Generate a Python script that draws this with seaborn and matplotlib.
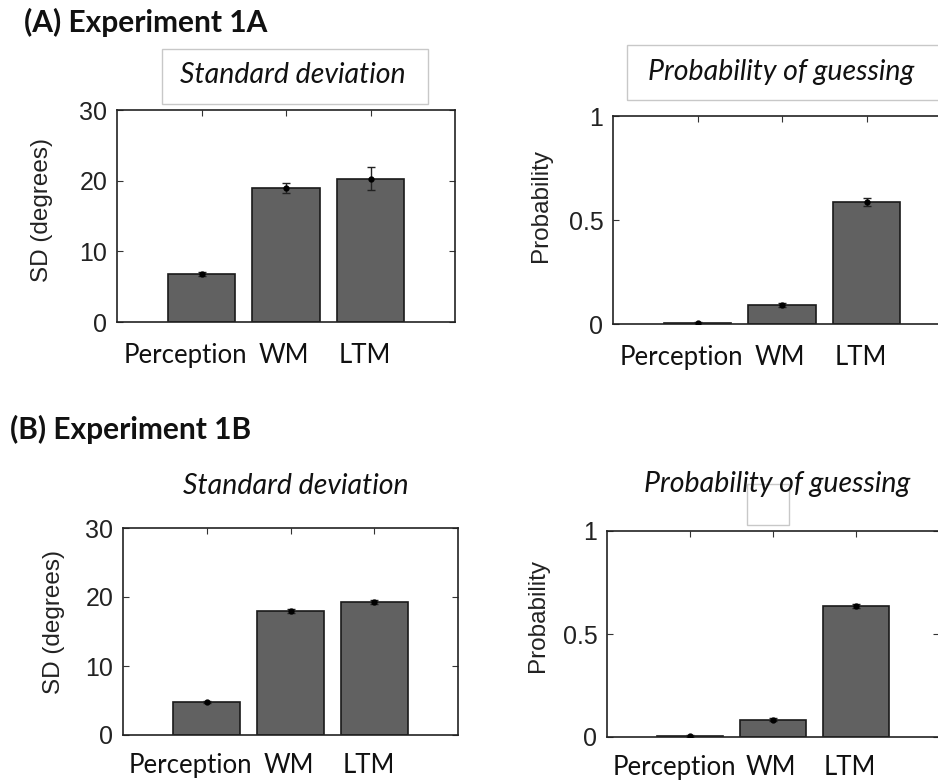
import numpy as np
import pandas as pd
import seaborn as sns
import matplotlib.pyplot as plt
from matplotlib.patches import Rectangle

# data
conditions = ['Perception', 'WM', 'LTM']
sd_1a = [6.8, 19.0, 20.3]
sd_1a_err = [0.3, 0.7, 1.6]
guess_1a = [0.006, 0.091, 0.588]
guess_1a_err = [0.003, 0.01, 0.02]
sd_1b = [4.8, 18.0, 19.3]
sd_1b_err = [0.2, 0.3, 0.3]
guess_1b = [0.005, 0.084, 0.637]
guess_1b_err = [0.003, 0.006, 0.01]

W, H = 938, 780
sns.set_style('white')
plt.rcParams['font.family'] = ['Liberation Sans', 'DejaVu Sans']

fig = plt.figure(figsize=(W / 100, H / 100), dpi=100)


def fx(px):
    return px / W


def fy(py):
    return 1 - py / H


def add_axes(x0, y0, x1, y1):
    return fig.add_axes([fx(x0), fy(y1), fx(x1 - x0), (y1 - y0) / H])


def panel(ax, vals, errs, ylabel, ymax, yticks, yticklabels, lab_xy, pad):
    df = pd.DataFrame({'cond': conditions, 'val': vals})
    sns.barplot(data=df, x='cond', y='val', color='#616161', saturation=1,
                edgecolor='#1a1a1a', linewidth=1.2, width=0.8, errorbar=None, ax=ax)
    ax.errorbar(range(3), vals, yerr=errs, fmt='o', ms=3.5, color='k',
                ecolor='#222222', elinewidth=1, capsize=3, zorder=4)
    ax.set_xlim(-1, 3)
    ax.set_ylim(0, ymax)
    ax.set_yticks(yticks)
    ax.set_yticklabels(yticklabels, fontsize=18, color='#222222')
    # major ticks only for the marks, labels on minor ticks a bit left of the bars
    ax.set_xticks(range(3))
    ax.set_xticklabels(['', '', ''])
    ax.set_xticks([-0.19, -0.02, -0.07] + np.arange(3), minor=True)
    ax.set_xticklabels(conditions, minor=True, fontsize=18.5,
                       family=['Lato', 'DejaVu Sans'], color='#111111')
    ax.set_xlabel('')
    ax.set_ylabel(ylabel, fontsize=17.5, color='#222222')
    ax.yaxis.set_label_coords(*lab_xy)
    ax.tick_params(axis='x', which='major', direction='in', bottom=False, top=True,
                   length=4, color='#333333')
    ax.tick_params(axis='x', which='minor', bottom=True, top=False, length=0, pad=pad)
    ax.tick_params(axis='y', direction='in', left=True, right=True, length=4,
                   pad=7, color='#333333')
    for s in ax.spines.values():
        s.set_visible(True)
        s.set_color('#222222')
        s.set_linewidth(1.2)


ax1 = add_axes(117, 110, 455, 322)
panel(ax1, sd_1a, sd_1a_err, 'SD (degrees)', 30, [0, 10, 20, 30], ['0', '10', '20', '30'],
      (-0.19, 0.528), 15)
ax2 = add_axes(613, 116, 951, 324)
panel(ax2, guess_1a, guess_1a_err, 'Probability', 1, [0, 0.5, 1], ['0', '0.5', '1'],
      (-0.18, 0.572), 15)
ax3 = add_axes(123, 528, 458, 735)
panel(ax3, sd_1b, sd_1b_err, 'SD (degrees)', 30, [0, 10, 20, 30], ['0', '10', '20', '30'],
      (-0.173, 0.546), 13)
ax4 = add_axes(607, 531, 939, 737)
panel(ax4, guess_1b, guess_1b_err, 'Probability', 1, [0, 0.5, 1], ['0', '0.5', '1'],
      (-0.175, 0.592), 13)

# panel headers
head = dict(fontsize=21.5, fontweight='bold', family=['Lato', 'DejaVu Sans'],
            ha='left', va='center', color='#111111')
fig.text(fx(24), fy(22), '(A) Experiment 1A', **head)
fig.text(fx(10), fy(429), '(B) Experiment 1B', **head)

# subplot titles
tt = dict(fontsize=20.5, style='italic', family=['Lato', 'DejaVu Sans'],
          ha='center', va='center', color='#111111')
fig.text(fx(293), fy(75), 'Standard deviation', **tt)
fig.text(fx(781), fy(72), 'Probability of guessing', **tt)
fig.text(fx(296), fy(486), 'Standard deviation', **tt)
fig.text(fx(777), fy(484), 'Probability of guessing', **tt)

# light title boxes
for x0, y0, x1, y1 in [(162, 49, 428, 104), (627, 45, 960, 100), (747, 484, 789, 525)]:
    fig.add_artist(Rectangle((fx(x0), fy(y1)), fx(x1 - x0), (y1 - y0) / H,
                             transform=fig.transFigure, fill=False,
                             edgecolor='#c8c8c8', linewidth=1))

fig.savefig('out.png', dpi=100)
